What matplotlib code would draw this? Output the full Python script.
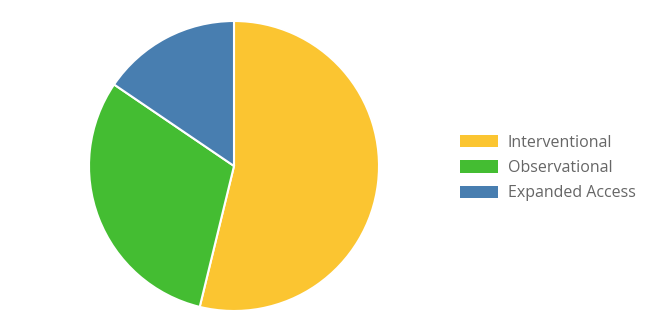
import matplotlib
matplotlib.use("Agg")
import matplotlib.pyplot as plt
from matplotlib.patches import Patch

labels = ["Interventional", "Observational", "Expanded Access"]
values = [53.8, 30.7, 15.5]
colors = ["#fbc531", "#44bd32", "#487eb0"]

plt.rcParams["font.family"] = ["Open Sans", "DejaVu Sans"]

W, H = 668, 334
fig = plt.figure(figsize=(W / 100, H / 100), dpi=100)
cx, cy, r = 234, 166, 145
ax = fig.add_axes([(cx - r) / W, (H - cy - r) / H, 2 * r / W, 2 * r / H])
ax.pie(values, colors=colors, startangle=90, counterclock=False, radius=1,
       wedgeprops=dict(edgecolor="white", linewidth=1.5))
ax.set_xlim(-1.0, 1.0)
ax.set_ylim(-1.0, 1.0)
ax.set_aspect("equal")
ax.axis("off")

handles = [Patch(facecolor=c, edgecolor="none") for c in colors]
leg = fig.legend(handles, labels, loc="center left", bbox_to_anchor=(460 / W, 1 - 168 / H),
                 frameon=False, fontsize=11.5, handlelength=2.38, handleheight=0.8,
                 labelspacing=0.58, handletextpad=0.6, borderpad=0.0, borderaxespad=0.0)
for t in leg.get_texts():
    t.set_color("#666666")

fig.savefig("out.png", dpi=100)
